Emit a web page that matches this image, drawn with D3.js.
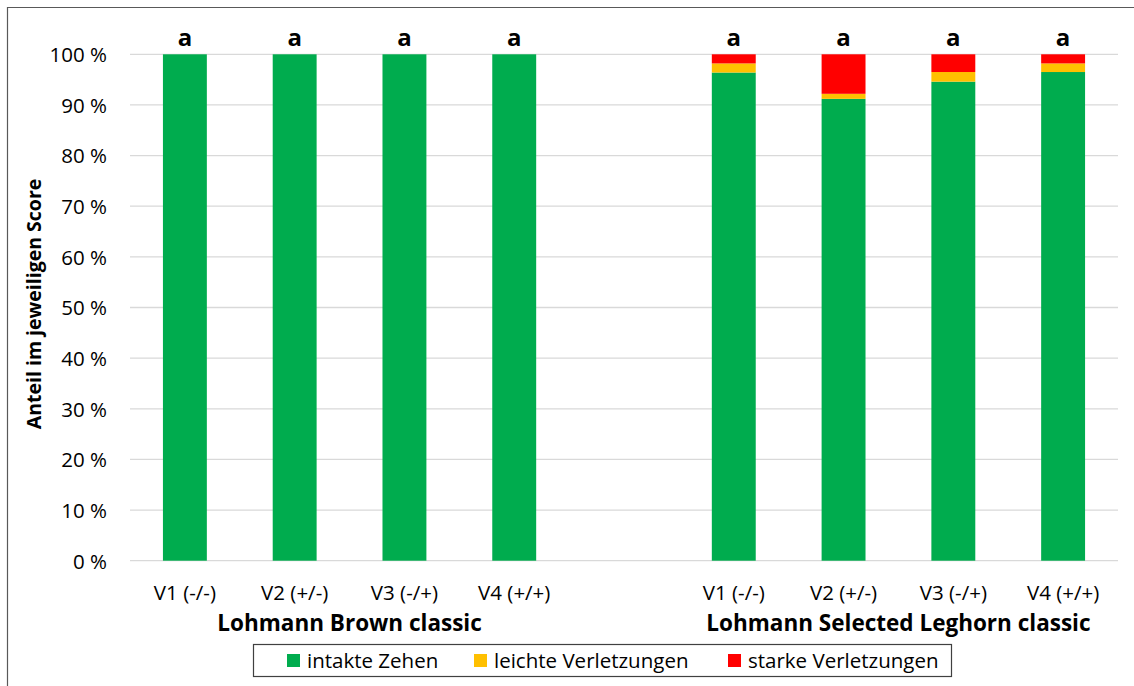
<!DOCTYPE html>
<html><head><meta charset="utf-8">
<script src="https://cdn.jsdelivr.net/npm/d3@7"></script>
<style>body{margin:0;background:#fff}svg{display:block}text{font-family:"Open Sans",sans-serif}</style>
</head><body>
<svg id="c" width="1134" height="686"></svg>
<script>
const slots = ["LB-V1","LB-V2","LB-V3","LB-V4","gap","LSL-V1","LSL-V2","LSL-V3","LSL-V4"];
const xLabels = ["V1 (-/-)","V2 (+/-)","V3 (-/+)","V4 (+/+)","","V1 (-/-)","V2 (+/-)","V3 (-/+)","V4 (+/+)"];
const categories = ["LB-V1","LB-V2","LB-V3","LB-V4","LSL-V1","LSL-V2","LSL-V3","LSL-V4"];
const intakte = [100,100,100,100,96.4,91.2,94.6,96.5];
const leichte = [0,0,0,0,1.8,1.0,1.9,1.7];
const starke = [0,0,0,0,1.8,7.8,3.5,1.8];
const letters = ["a","a","a","a","a","a","a","a"];
const seriesNames = ["intakte Zehen","leichte Verletzungen","starke Verletzungen"];
const colors = ["#00ac4e","#ffc000","#ff0000"];
const yTicks = [0,10,20,30,40,50,60,70,80,90,100];
const groups = [{name:"Lohmann Brown classic", from:"LB-V1", to:"LB-V4"},
                {name:"Lohmann Selected Leghorn classic", from:"LSL-V1", to:"LSL-V4"}];

const svg = d3.select("#c");
svg.append("path").attr("d","M7.5,686 V7.5 H1134").attr("fill","none").attr("stroke","#595959").attr("stroke-width",1.2);

const x = d3.scaleBand().domain(slots).range([130,1118]).paddingInner(0.6).paddingOuter(0.3);
const y = d3.scaleLinear().domain([0,100]).range([560.7,54.3]);

svg.append("g").selectAll("line").data(yTicks).join("line")
  .attr("x1",130).attr("x2",1118).attr("y1",d=>y(d)).attr("y2",d=>y(d))
  .attr("stroke","#d9d9d9").attr("stroke-width",1.3);

const yAxis = d3.axisLeft(y).tickValues(yTicks).tickFormat(d=>d+" %").tickSize(0).tickPadding(0);
const ga = svg.append("g").attr("transform","translate(107,0)").call(yAxis);
ga.select(".domain").remove();
ga.selectAll("text").attr("font-size",20.5).attr("fill","#000").attr("font-family","'Open Sans',sans-serif").attr("dy","0.357em");

const data = categories.map((c,i)=>({cat:c, intakte:intakte[i], leichte:leichte[i], starke:starke[i]}));
const stack = d3.stack().keys(["intakte","leichte","starke"])(data);
svg.append("g").selectAll("g").data(stack).join("g").attr("fill",(d,i)=>colors[i])
  .selectAll("rect").data(d=>d).join("rect")
  .attr("x",d=>x(d.data.cat)).attr("width",x.bandwidth())
  .attr("y",d=>y(d[1])).attr("height",d=>y(d[0])-y(d[1]));

svg.append("g").selectAll("text").data(categories).join("text")
  .attr("x",d=>x(d)+x.bandwidth()/2).attr("y",46).attr("text-anchor","middle")
  .attr("font-size",24).attr("font-weight","bold").text((d,i)=>letters[i]);

const xAxis = d3.axisBottom(x).tickFormat((d,i)=>xLabels[i]).tickSize(0).tickPadding(0);
const gx = svg.append("g").attr("transform","translate(0,600)").call(xAxis);
gx.select(".domain").remove();
gx.selectAll("text").attr("font-size",20.5).attr("fill","#000").attr("font-family","'Open Sans',sans-serif").attr("dy",0);

svg.append("g").selectAll("text").data(groups).join("text")
  .attr("x",g=>(x(g.from)+x(g.to)+x.bandwidth())/2).attr("y",631).attr("text-anchor","middle")
  .attr("font-size",22.5).attr("font-weight","bold").text(g=>g.name);

svg.append("text").attr("transform","translate(40.5,304) rotate(-90)").attr("text-anchor","middle")
  .attr("font-size",19.5).attr("font-weight","bold").text("Anteil im jeweiligen Score");

svg.append("rect").attr("x",253.5).attr("y",644.5).attr("width",698).attr("height",32)
  .attr("fill","#fff").attr("stroke","#404040").attr("stroke-width",1.2);
const legX = [287,474,728];
const lg = svg.append("g").selectAll("g").data(seriesNames).join("g")
  .attr("transform",(d,i)=>`translate(${legX[i]},654)`);
lg.append("rect").attr("width",13).attr("height",13).attr("fill",(d,i)=>colors[i]);
lg.append("text").attr("x",20).attr("y",14.3).attr("font-size",20.5).text(d=>d);
</script>
</body></html>
